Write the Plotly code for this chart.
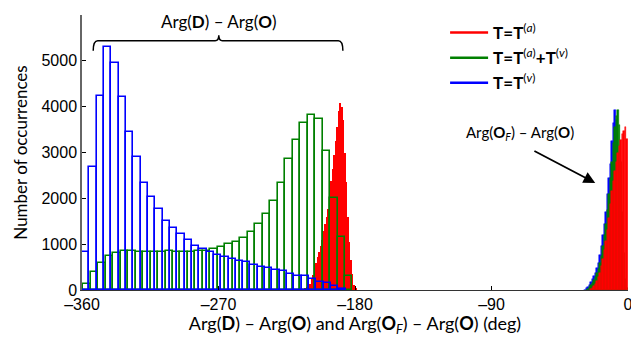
import numpy as np
import plotly.graph_objects as go

# ---------------- data ----------------
# Arg(D) - Arg(O) histograms (36 bins each)
blue_start, blue_width = -360.0, 4.83
blue_counts = [836, 2677, 4233, 5309, 4946, 4218, 3441, 2910, 2342, 2036,
               1760, 1513, 1345, 1214, 1091, 960, 887, 836, 764, 727,
               676, 640, 604, 545, 509, 487, 436, 415, 342, 312,
               312, 240, 182, 145, 87, 29]

green_start, green_width = -359.15, 4.93
green_counts = [124, 400, 596, 749, 800, 858, 858, 830, 840, 835,
                830, 845, 840, 830, 835, 845, 850, 887, 931, 996,
                1055, 1142, 1273, 1433, 1651, 1949, 2342, 2851, 3273, 3637,
                3818, 3724, 3040, 2014, 1156, 305]

red_start, red_width = -215.0, 1.0
red_counts = [10, 20, 35, 55, 90, 140, 230, 320, 470, 580,
              720, 830, 960, 1100, 1280, 1450, 1600, 1760, 2050, 2380,
              2650, 2950, 3250, 3550, 3900, 4080, 4000, 3700, 3000, 2350,
              1600, 1050, 650, 340, 120, 40]

# Arg(O_F) - Arg(O) histograms near 0
blue0_start, blue0_width = -29.0, 1.0
blue0_counts = [10, 40, 70, 120, 170, 230, 300, 380, 470, 580,
                760, 950, 1200, 1450, 1700, 2100, 2450, 2750, 3250, 3650,
                3920, 3700, 3000, 2000, 1100, 450, 120, 20]

green0_start, green0_width = -28.0, 1.0
green0_counts = [10, 30, 70, 110, 160, 220, 290, 370, 460, 580,
                 750, 950, 1200, 1450, 1750, 2100, 2450, 2800, 3200, 3550,
                 3800, 3920, 3600, 2800, 1700, 800, 250, 40]

red0_start, red0_width = -25.0, 1.0
red0_counts = [20, 50, 90, 140, 200, 280, 380, 520, 680, 870,
               1080, 1320, 1580, 1880, 2150, 2380, 2600, 2800, 2980, 3150,
               3280, 3400, 3480, 3550, 3300]

x_ticks = [-360, -270, -180, -90, 0]
x_ticklabels = ["\u2013360", "\u2013270", "\u2013180", "\u201390", "0"]
y_ticks = [0, 1000, 2000, 3000, 4000, 5000, 6000]

RED, GREEN, BLUE = "#FF0000", "#008000", "#0000FF"


def centers(start, width, counts):
    return start + width * (np.arange(len(counts)) + 0.5)


fig = go.Figure()

fig.add_trace(go.Bar(x=centers(red_start, red_width, red_counts), y=red_counts,
                     width=red_width, marker=dict(color=RED, line=dict(width=0)),
                     showlegend=False))
fig.add_trace(go.Bar(x=centers(green_start, green_width, green_counts), y=green_counts,
                     width=green_width,
                     marker=dict(color="rgba(0,0,0,0)", line=dict(color=GREEN, width=1.6)),
                     showlegend=False))
fig.add_trace(go.Bar(x=centers(blue_start, blue_width, blue_counts), y=blue_counts,
                     width=blue_width,
                     marker=dict(color="rgba(0,0,0,0)", line=dict(color=BLUE, width=1.6)),
                     showlegend=False))

fig.add_trace(go.Bar(x=centers(blue0_start, blue0_width, blue0_counts), y=blue0_counts,
                     width=blue0_width, marker=dict(color=BLUE, line=dict(color=BLUE, width=0.5)),
                     showlegend=False))
fig.add_trace(go.Bar(x=centers(green0_start, green0_width, green0_counts), y=green0_counts,
                     width=green0_width, marker=dict(color=GREEN, line=dict(color=GREEN, width=0.5)),
                     showlegend=False))
fig.add_trace(go.Bar(x=centers(red0_start, red0_width, red0_counts), y=red0_counts,
                     width=red0_width, marker=dict(color=RED, line=dict(color=RED, width=0.5)),
                     showlegend=False))

legend_names = ["<b>T=T</b><sup>(<i>a</i>)</sup>",
                "<b>T=T</b><sup>(<i>a</i>)</sup><b>+T</b><sup>(<i>v</i>)</sup>",
                "<b>T=T</b><sup>(<i>v</i>)</sup>"]
for name, col in zip(legend_names, [RED, GREEN, BLUE]):
    fig.add_trace(go.Scatter(x=[None], y=[None], mode="lines", name=name,
                             line=dict(color=col, width=2.5)))

TXT = "Lato, 'Open Sans', sans-serif"

brace = ("M -352.6,5222 Q -352.6,5440 -349.6,5440 L -272.2,5440 "
         "Q -269.8,5440 -269.8,5560 Q -269.8,5440 -267.4,5440 "
         "L -191,5440 Q -188,5440 -188,5222")
fig.add_shape(type="path", path=brace, xref="x", yref="y",
              line=dict(color="black", width=1.5))

fig.add_annotation(x=-269.8, y=5860, xref="x", yref="y",
                   text="Arg(<b>D</b>) \u2013 Arg(<b>O</b>)", showarrow=False,
                   font=dict(family=TXT, size=17, color="black"))

fig.add_annotation(x=-71, y=3430, xref="x", yref="y",
                   text="Arg(<b>O</b><sub><i>F</i></sub>) \u2013 Arg(<b>O</b>)", showarrow=False,
                   font=dict(family=TXT, size=15, color="black"))
fig.add_annotation(x=-21.6, y=2335, ax=-62.7, ay=3050, xref="x", yref="y",
                   axref="x", ayref="y", text="", showarrow=True,
                   arrowhead=2, arrowsize=1.3, arrowwidth=1.8, arrowcolor="black")

# the page body adds an 8 px offset; the figure is sized so the plot lands in place
fig.update_layout(
    width=631, height=329,
    margin=dict(l=74, r=6, t=7, b=47),
    paper_bgcolor="white", plot_bgcolor="white",
    barmode="overlay", bargap=0,
    font=dict(family="'Liberation Sans', Arial, sans-serif", size=16, color="black"),
    legend=dict(x=0.665, y=1.0, xanchor="left", yanchor="top",
                bgcolor="rgba(0,0,0,0)", itemwidth=38, tracegroupgap=0,
                font=dict(family=TXT, size=17, color="black")),
)
fig.update_xaxes(range=[-360, 0], tickvals=x_ticks, ticktext=x_ticklabels,
                 ticks="inside", ticklen=4, tickcolor="black",
                 showline=True, linecolor="#333333", linewidth=1,
                 showgrid=False, zeroline=False,
                 title=dict(text="Arg(<b>D</b>) \u2013 Arg(<b>O</b>) and Arg(<b>O</b><sub><i>F</i></sub>) \u2013 Arg(<b>O</b>) (deg)",
                            font=dict(family=TXT, size=18), standoff=3))
fig.update_yaxes(range=[0, 6000], tickvals=y_ticks,
                 ticks="inside", ticklen=4, tickcolor="black",
                 showline=True, linecolor="#666666", linewidth=1.5,
                 showgrid=False, zeroline=False,
                 title=dict(text="Number of occurrences", font=dict(family=TXT, size=17), standoff=10))

fig.write_html("out.html")
